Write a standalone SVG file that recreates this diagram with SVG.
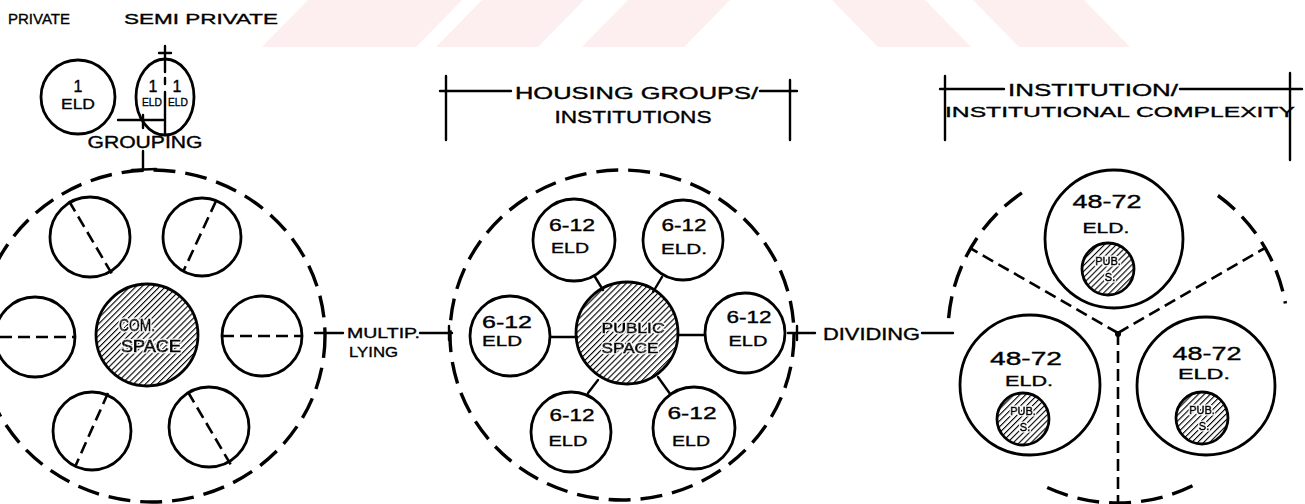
<svg xmlns="http://www.w3.org/2000/svg" width="1305" height="504" viewBox="0 0 1305 504">
<defs>
  <pattern id="hatch" width="4.2" height="4.2" patternUnits="userSpaceOnUse" patternTransform="rotate(45)">
    <line x1="0" y1="0" x2="0" y2="4.2" stroke="#000" stroke-width="2.2"/>
  </pattern>
  <!-- white clearance round lettering placed on hatching -->
  <filter id="halo" x="-20%" y="-40%" width="140%" height="180%">
    <feMorphology in="SourceAlpha" operator="dilate" radius="1.1" result="grow"/>
    <feFlood flood-color="#fff"/>
    <feComposite in2="grow" operator="in" result="bg"/>
    <feMerge><feMergeNode in="bg"/><feMergeNode in="SourceGraphic"/></feMerge>
  </filter>
  <style>
    .ln{fill:none;stroke:#000;stroke-width:2.4;stroke-linecap:round}
    .cir{fill:#fff;stroke:#000;stroke-width:2.8}
    .dash{fill:none;stroke:#000;stroke-width:3.4;stroke-dasharray:22 10}
    .dsh{fill:none;stroke:#000;stroke-width:2.6;stroke-dasharray:12 6}
    .hat{fill:url(#hatch);stroke:#000;stroke-width:2.8}
    text{font-family:"Liberation Sans",Arial,sans-serif;fill:#000;stroke:#000;stroke-width:0.35px;text-anchor:middle}
    .b{font-size:18px}
    .t{font-size:16px}
    .s{font-size:15px}
    .xs{font-size:11px}
    .l{text-anchor:start}
    .h{filter:url(#halo);stroke-width:0.9px}
    .wm{fill:#fdeef0}
  </style>
</defs>
<rect width="1305" height="504" fill="#fff"/>

<!-- faint background band -->
<g id="band">
  <polygon class="wm" points="308,0 462,0 416,47 262,47"/>
  <polygon class="wm" points="482,0 584,0 538,47 436,47"/>
  <polygon class="wm" points="628,0 730,0 684,47 582,47"/>
  <polygon class="wm" points="832,0 925,0 971,47 878,47"/>
  <polygon class="wm" points="973,0 1084,0 1130,47 1019,47"/>
</g>

<!-- single dwellings -->
<g id="private">
  <text class="s l" x="8" y="24" textLength="62" lengthAdjust="spacingAndGlyphs">PRIVATE</text>
  <circle class="cir" cx="78" cy="97" r="37"/>
  <text class="t" x="78" y="92">1</text>
  <text class="s" x="78" y="109" textLength="34" lengthAdjust="spacingAndGlyphs">ELD</text>
</g>
<g id="semi-private">
  <text class="s l" x="124" y="24" textLength="154" lengthAdjust="spacingAndGlyphs">SEMI PRIVATE</text>
  <ellipse class="cir" cx="165" cy="97" rx="29" ry="38"/>
  <line class="ln" x1="165" y1="46" x2="165" y2="72"/>
  <line class="ln" x1="159" y1="53" x2="171" y2="53"/>
  <line class="ln" x1="165" y1="78" x2="165" y2="84"/>
  <line class="ln" x1="165" y1="92" x2="165" y2="135"/>
  <text class="t" x="153" y="92">1</text>
  <text class="t" x="177" y="92">1</text>
  <text class="xs" x="152" y="106" textLength="20" lengthAdjust="spacingAndGlyphs">ELD</text>
  <text class="xs" x="178" y="106" textLength="20" lengthAdjust="spacingAndGlyphs">ELD</text>
</g>

<!-- cluster of single dwellings round a common space -->
<g id="grouping">
  <ellipse class="dash" cx="152" cy="336" rx="173" ry="166"/>
  <circle class="cir" cx="90" cy="237" r="40"/>
  <line class="dsh" x1="69" y1="201" x2="112" y2="274"/>
  <circle class="cir" cx="202" cy="237" r="39"/>
  <line class="dsh" x1="216" y1="201" x2="183" y2="272"/>
  <circle class="cir" cx="35" cy="337" r="40"/>
  <line class="dsh" x1="0" y1="337" x2="75" y2="337"/>
  <circle class="cir" cx="262" cy="336" r="40"/>
  <line class="dsh" x1="222" y1="336" x2="302" y2="336"/>
  <circle class="cir" cx="92" cy="431" r="39"/>
  <line class="dsh" x1="108" y1="393" x2="75" y2="467"/>
  <circle class="cir" cx="209" cy="427" r="40"/>
  <line class="dsh" x1="188" y1="392" x2="231" y2="465"/>
  <circle class="hat" cx="147" cy="335" r="51"/>
  <text class="t h" x="137" y="331" textLength="36" lengthAdjust="spacingAndGlyphs">COM.</text>
  <text class="t h" x="151" y="352" textLength="60" lengthAdjust="spacingAndGlyphs">SPACE</text>
</g>

<!-- housing group round a public space -->
<g id="housing-group">
  <ellipse class="dash" cx="622" cy="335" rx="172" ry="165"/>
  <line class="ln" x1="592" y1="272" x2="603" y2="290"/>
  <line class="ln" x1="662" y1="277" x2="653" y2="292"/>
  <line class="ln" x1="550" y1="337" x2="577" y2="337"/>
  <line class="ln" x1="678" y1="335" x2="705" y2="335"/>
  <line class="ln" x1="598" y1="380" x2="588" y2="393"/>
  <line class="ln" x1="658" y1="377" x2="673" y2="398"/>
  <circle class="cir" cx="574" cy="240" r="41"/>
  <text class="t" x="572" y="231" textLength="46" lengthAdjust="spacingAndGlyphs">6-12</text>
  <text class="s" x="570" y="253" textLength="38" lengthAdjust="spacingAndGlyphs">ELD</text>
  <circle class="cir" cx="683" cy="240" r="40"/>
  <text class="t" x="684" y="231" textLength="45" lengthAdjust="spacingAndGlyphs">6-12</text>
  <text class="s" x="684" y="254" textLength="46" lengthAdjust="spacingAndGlyphs">ELD.</text>
  <circle class="cir" cx="510" cy="336" r="40"/>
  <text class="t" x="507" y="328" textLength="50" lengthAdjust="spacingAndGlyphs">6-12</text>
  <text class="s" x="502" y="346" textLength="40" lengthAdjust="spacingAndGlyphs">ELD</text>
  <circle class="cir" cx="745" cy="333" r="40"/>
  <text class="t" x="749" y="323" textLength="45" lengthAdjust="spacingAndGlyphs">6-12</text>
  <text class="s" x="748" y="346" textLength="39" lengthAdjust="spacingAndGlyphs">ELD</text>
  <circle class="cir" cx="571" cy="432" r="40"/>
  <text class="t" x="572" y="421" textLength="45" lengthAdjust="spacingAndGlyphs">6-12</text>
  <text class="s" x="568" y="446" textLength="39" lengthAdjust="spacingAndGlyphs">ELD</text>
  <circle class="cir" cx="694" cy="428" r="41"/>
  <text class="t" x="692" y="419" textLength="49" lengthAdjust="spacingAndGlyphs">6-12</text>
  <text class="s" x="691" y="446" textLength="38" lengthAdjust="spacingAndGlyphs">ELD</text>
  <circle class="hat" cx="627" cy="333" r="51"/>
  <text class="s h" x="633" y="333" textLength="63" lengthAdjust="spacingAndGlyphs">PUBLIC</text>
  <text class="s h" x="630" y="353" textLength="57" lengthAdjust="spacingAndGlyphs">SPACE</text>
</g>

<!-- institution divided into three parts -->
<g id="institution">
  <path class="dash" d="M1192.5,485.8 A170,170 0 0 1 1043.5,485.8"/>
  <path class="dash" d="M948.6,318.2 A170,170 0 0 1 1022.9,192.1"/>
  <path class="dash" d="M1217.9,195.5 A170,170 0 0 1 1285.4,303.5"/>
  <line class="dsh" x1="1118" y1="333" x2="970" y2="248"/>
  <line class="dsh" x1="1118" y1="333" x2="1265" y2="248"/>
  <line class="dsh" x1="1118" y1="333" x2="1118" y2="503"/>
  <circle cx="1118" cy="334" r="3"/>
  <circle class="cir" cx="1114" cy="239" r="69"/>
  <text class="b" x="1107" y="208" textLength="69" lengthAdjust="spacingAndGlyphs">48-72</text>
  <text class="s" x="1106" y="233" textLength="47" lengthAdjust="spacingAndGlyphs">ELD.</text>
  <circle class="hat" cx="1108" cy="269" r="26"/>
  <text class="xs h" x="1108" y="265">PUB.</text>
  <text class="xs h" x="1110" y="281">S.</text>
  <circle class="cir" cx="1030" cy="385" r="70"/>
  <text class="b" x="1026" y="365" textLength="72" lengthAdjust="spacingAndGlyphs">48-72</text>
  <text class="s" x="1029" y="386" textLength="48" lengthAdjust="spacingAndGlyphs">ELD.</text>
  <circle class="hat" cx="1023" cy="419" r="26"/>
  <text class="xs h" x="1023" y="415">PUB.</text>
  <text class="xs h" x="1025" y="431">S.</text>
  <circle class="cir" cx="1206" cy="386" r="69"/>
  <text class="b" x="1207" y="360" textLength="69" lengthAdjust="spacingAndGlyphs">48-72</text>
  <text class="s" x="1204" y="379" textLength="52" lengthAdjust="spacingAndGlyphs">ELD.</text>
  <circle class="hat" cx="1202" cy="418" r="26"/>
  <text class="xs h" x="1202" y="414">PUB.</text>
  <text class="xs h" x="1204" y="430">S.</text>
</g>

<!-- header brackets -->
<g id="header-housing">
  <line class="ln" x1="446" y1="76" x2="446" y2="140"/>
  <line class="ln" x1="440" y1="91" x2="511" y2="91"/>
  <text class="t l" x="515" y="99" textLength="243" lengthAdjust="spacingAndGlyphs">HOUSING GROUPS/</text>
  <line class="ln" x1="760" y1="91" x2="797" y2="91"/>
  <line class="ln" x1="790" y1="80" x2="790" y2="140"/>
  <text class="t" x="633" y="123" textLength="157" lengthAdjust="spacingAndGlyphs">INSTITUTIONS</text>
</g>
<g id="header-institution">
  <line class="ln" x1="945" y1="76" x2="945" y2="140"/>
  <line class="ln" x1="940" y1="89" x2="1004" y2="89"/>
  <text class="t l" x="1008" y="96" textLength="170" lengthAdjust="spacingAndGlyphs">INSTITUTION/</text>
  <line class="ln" x1="1180" y1="89" x2="1302" y2="89"/>
  <line class="ln" x1="1290" y1="73" x2="1290" y2="160"/>
  <text class="s l" x="945" y="117" textLength="350" lengthAdjust="spacingAndGlyphs">INSTITUTIONAL COMPLEXITY</text>
</g>

<!-- step connectors and labels -->
<g id="connectors">
  <line class="ln" x1="118" y1="120" x2="163" y2="120"/>
  <line class="ln" x1="143" y1="115" x2="143" y2="128"/>
  <text class="t" x="145" y="148" textLength="115" lengthAdjust="spacingAndGlyphs">GROUPING</text>
  <line class="ln" x1="143" y1="151" x2="143" y2="170"/>
  <line class="ln" x1="132" y1="170" x2="156" y2="169"/>
  <line class="ln" x1="315" y1="333" x2="343" y2="333"/>
  <text class="s l" x="347" y="338" textLength="73" lengthAdjust="spacingAndGlyphs">MULTIP.</text>
  <text class="s l" x="349" y="357" textLength="49" lengthAdjust="spacingAndGlyphs">LYING</text>
  <line class="ln" x1="420" y1="333" x2="452" y2="333"/>
  <line class="ln" x1="449" y1="326" x2="449" y2="340"/>
  <line class="ln" x1="788" y1="333" x2="815" y2="333"/>
  <line class="ln" x1="797" y1="326" x2="797" y2="340"/>
  <text class="t l" x="823" y="340" textLength="97" lengthAdjust="spacingAndGlyphs">DIVIDING</text>
  <line class="ln" x1="922" y1="333" x2="953" y2="333"/>
</g>
</svg>
